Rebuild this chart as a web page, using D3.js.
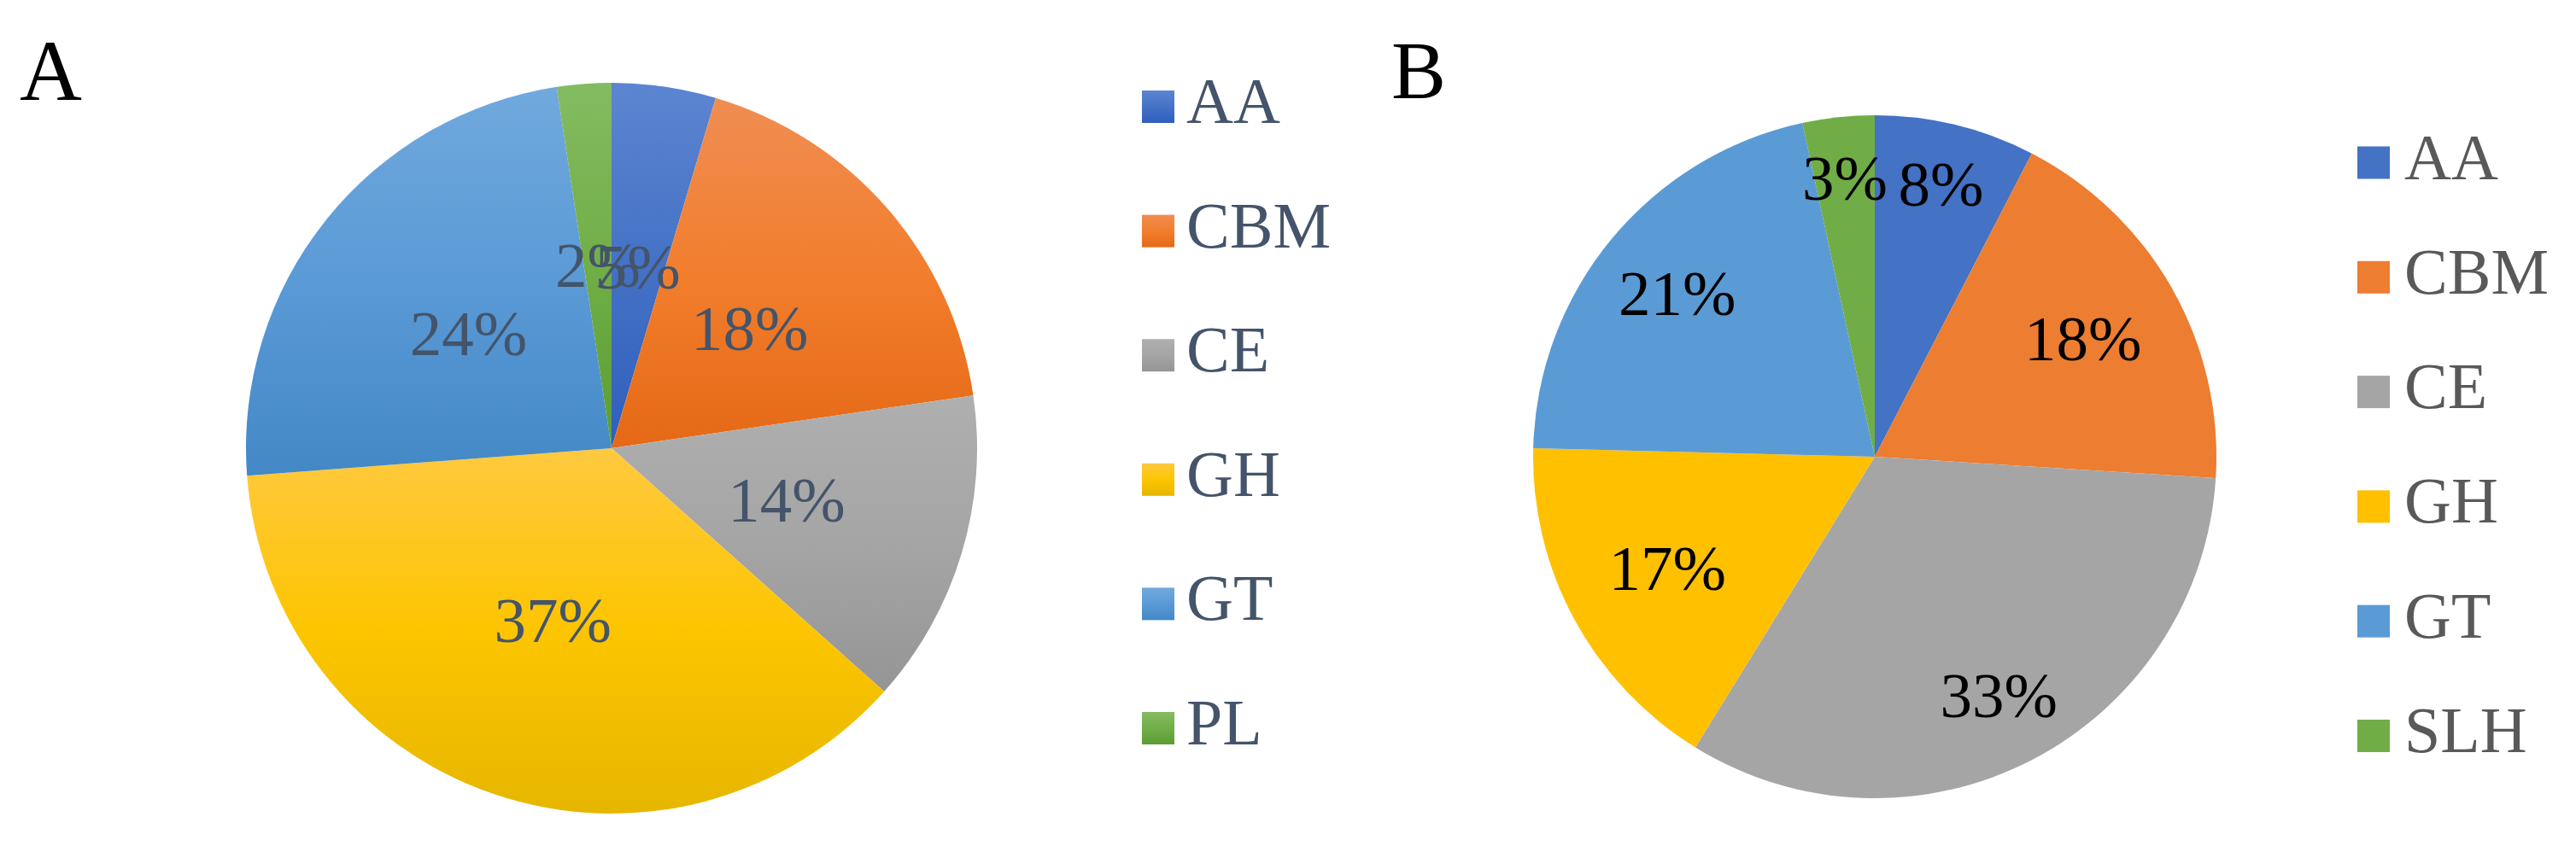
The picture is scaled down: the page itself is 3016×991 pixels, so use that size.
<!DOCTYPE html>
<html>
<head>
<meta charset="utf-8">
<script src="https://cdn.jsdelivr.net/npm/d3@7"></script>
<style>
  body { margin: 0; background: #fff; }
  text { font-family: "Liberation Serif", "Times New Roman", serif; }
</style>
</head>
<body>
<svg id="chart" width="3016" height="991"></svg>
<script>
// panel A
const categoriesA = ["AA", "CBM", "CE", "GH", "GT", "PL"];
const valuesA = [4.6, 18.1, 13.9, 37.2, 23.8, 2.4];

// panel B
const categoriesB = ["AA", "CBM", "CE", "GH", "GT", "SLH"];
const valuesB = [7.6, 18.4, 32.8, 16.6, 21.2, 3.4];

// office palette, flat and gradient (top, middle, bottom)
const colors = ["#4472C4", "#ED7D31", "#A5A5A5", "#FFC000", "#5B9BD5", "#70AD47"];
const gradStops = [
    ["#5C85D1", "#4572C6", "#2F5EBD"],
    ["#F08D53", "#F27E2D", "#E56916"],
    ["#AFAFAF", "#A5A5A5", "#959595"],
    ["#FFC940", "#FDC500", "#E6B600"],
    ["#70A9DD", "#5A9AD6", "#4388C6"],
    ["#84BB62", "#71AE47", "#5A9D33"]
];
// where Excel put the B labels, as a fraction of the radius
const labelRadiusB = [0.82, 0.70, 0.79, 0.69, 0.75, 0.82];

const svg = d3.select("#chart");

const defs = svg.append("defs");
gradStops.forEach((s, i) => {
    const g = defs.append("linearGradient")
        .attr("id", "grad" + i)
        .attr("x1", 0).attr("y1", 0).attr("x2", 0).attr("y2", 1);
    g.append("stop").attr("offset", "0%").attr("stop-color", s[0]);
    g.append("stop").attr("offset", "50%").attr("stop-color", s[1]);
    g.append("stop").attr("offset", "100%").attr("stop-color", s[2]);
});

const pie = d3.pie().sort(null).value(d => d);

function drawPanel(opts) {
    const arcs = pie(opts.values);
    const arc = d3.arc().innerRadius(0).outerRadius(opts.r);

    const g = svg.append("g")
        .attr("transform", `translate(${opts.cx},${opts.cy})`);

    g.selectAll("path")
        .data(arcs)
        .enter().append("path")
        .attr("d", arc)
        .attr("fill", (d, i) => opts.fill(i));

    g.selectAll("text.lbl")
        .data(arcs)
        .enter().append("text")
        .attr("class", "lbl")
        .attr("transform", (d, i) => {
            const a = (d.startAngle + d.endAngle) / 2;
            const rr = opts.r * opts.labelR(i);
            return `translate(${Math.sin(a) * rr},${-Math.cos(a) * rr})`;
        })
        .attr("text-anchor", "middle")
        .attr("dy", "0.33em")
        .attr("font-size", 75)
        .attr("fill", opts.labelColor)
        .text(d => Math.round(d.value) + "%");

    const leg = svg.append("g")
        .attr("transform", `translate(${opts.legX},${opts.legY})`);

    const item = leg.selectAll("g")
        .data(opts.categories)
        .enter().append("g")
        .attr("transform", (d, i) => `translate(0,${i * opts.legStep})`);

    item.append("rect")
        .attr("x", 0).attr("y", -19)
        .attr("width", 38).attr("height", 38)
        .attr("fill", (d, i) => opts.fill(i));

    item.append("text")
        .attr("x", opts.legText)
        .attr("y", 19)
        .attr("font-size", 76)
        .attr("fill", opts.legColor)
        .text(d => d);

    svg.append("text")
        .attr("x", opts.tagX)
        .attr("y", opts.tagY)
        .attr("font-size", opts.tagSize)
        .attr("fill", "#000")
        .text(opts.tag);
}

drawPanel({
    values: valuesA, categories: categoriesA,
    cx: 716, cy: 525, r: 428,
    fill: i => `url(#grad${i})`,
    labelR: () => 0.5,
    labelColor: "#44546A",
    legX: 1337, legY: 125, legStep: 145.6, legText: 52, legColor: "#44546A",
    tag: "A", tagX: 23, tagY: 117, tagSize: 101
});

drawPanel({
    values: valuesB, categories: categoriesB,
    cx: 2195, cy: 535, r: 400,
    fill: i => colors[i],
    labelR: i => labelRadiusB[i],
    labelColor: "#000",
    legX: 2760, legY: 190.5, legStep: 134.3, legText: 55, legColor: "#595959",
    tag: "B", tagX: 1629, tagY: 115, tagSize: 96
});
</script>
</body>
</html>
